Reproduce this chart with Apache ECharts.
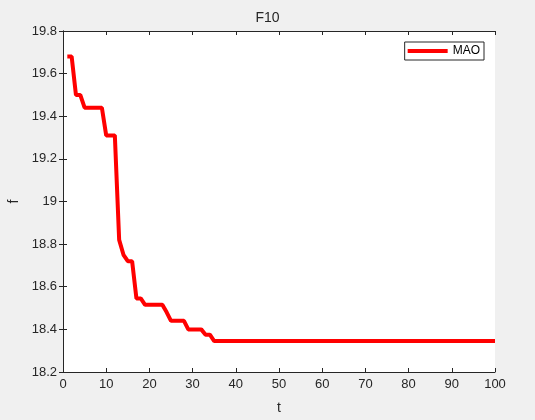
<!DOCTYPE html>
<html>
<head>
<meta charset="utf-8">
<script src="https://cdn.jsdelivr.net/npm/echarts@6/dist/echarts.min.js"></script>
<style>
  html, body { margin: 0; padding: 0; background: #f0f0f0; }
  #main { width: 535px; height: 420px; }
</style>
</head>
<body>
<div id="main"></div>
<script>
// iteration numbers
var iters = [];
for (var i = 1; i <= 100; i++) iters.push(i);

// best fitness per iteration
var fitness = [
  19.68, 19.68, 19.50, 19.50, 19.44, 19.44, 19.44, 19.44, 19.44, 19.31,
  19.31, 19.31, 18.82, 18.75, 18.72, 18.72, 18.545, 18.545, 18.515, 18.515,
  18.515, 18.515, 18.515, 18.48, 18.44, 18.44, 18.44, 18.44, 18.40, 18.40,
  18.40, 18.40, 18.375, 18.375, 18.345, 18.345, 18.345, 18.345, 18.345, 18.345,
  18.345, 18.345, 18.345, 18.345, 18.345, 18.345, 18.345, 18.345, 18.345, 18.345,
  18.345, 18.345, 18.345, 18.345, 18.345, 18.345, 18.345, 18.345, 18.345, 18.345,
  18.345, 18.345, 18.345, 18.345, 18.345, 18.345, 18.345, 18.345, 18.345, 18.345,
  18.345, 18.345, 18.345, 18.345, 18.345, 18.345, 18.345, 18.345, 18.345, 18.345,
  18.345, 18.345, 18.345, 18.345, 18.345, 18.345, 18.345, 18.345, 18.345, 18.345,
  18.345, 18.345, 18.345, 18.345, 18.345, 18.345, 18.345, 18.345, 18.345, 18.345
];

var seriesName = 'MAO';
var titleText = 'F10';

var font = 'Liberation Sans, Arial, sans-serif';
var ink = '#262626';

var points = iters.map(function (t, k) { return [t, fitness[k]]; });

var chart = echarts.init(document.getElementById('main'));

var tickStyle = { show: true, inside: true, length: 4, lineStyle: { color: ink, width: 1 } };
var lineStyle = { show: true, lineStyle: { color: ink, width: 1 } };

chart.setOption({
  backgroundColor: '#f0f0f0',
  animation: false,
  title: {
    text: titleText,
    left: 'center',
    top: 6,
    textStyle: { fontFamily: font, fontSize: 14, fontWeight: 'normal', color: ink }
  },
  grid: {
    left: 63,
    right: 40,
    top: 31,
    bottom: 48,
    outerBoundsMode: 'none',
    containLabel: false,
    show: true,
    backgroundColor: '#ffffff',
    borderWidth: 0
  },
  legend: {
    data: [seriesName],
    right: 51,
    top: 42,
    padding: [3, 4, 3, 3],
    backgroundColor: '#ffffff',
    borderColor: ink,
    borderWidth: 1,
    borderRadius: 0,
    icon: 'rect',
    itemWidth: 40,
    itemHeight: 4,
    textStyle: { fontFamily: font, fontSize: 12, color: '#000' }
  },
  xAxis: [{
    type: 'value',
    min: 0,
    max: 100,
    interval: 10,
    name: 't',
    nameLocation: 'middle',
    nameGap: 29,
    nameTextStyle: { fontFamily: font, fontSize: 14, color: ink },
    axisLine: lineStyle,
    axisTick: tickStyle,
    axisLabel: { fontFamily: font, fontSize: 13, color: ink, margin: 6 },
    splitLine: { show: false }
  }, {
    type: 'value',
    position: 'top',
    min: 0,
    max: 100,
    interval: 10,
    axisLine: lineStyle,
    axisTick: tickStyle,
    axisLabel: { show: false },
    splitLine: { show: false }
  }],
  yAxis: [{
    type: 'value',
    min: 18.2,
    max: 19.8,
    interval: 0.2,
    name: 'f',
    nameLocation: 'middle',
    nameGap: 40,
    nameTextStyle: { fontFamily: font, fontSize: 14, color: ink },
    axisLine: lineStyle,
    axisTick: tickStyle,
    axisLabel: {
      fontFamily: font, fontSize: 13, color: ink, margin: 6,
      formatter: function (v) { return String(parseFloat(v.toFixed(1))); }
    },
    splitLine: { show: false }
  }, {
    type: 'value',
    position: 'right',
    min: 18.2,
    max: 19.8,
    interval: 0.2,
    axisLine: lineStyle,
    axisTick: tickStyle,
    axisLabel: { show: false },
    splitLine: { show: false }
  }],
  series: [{
    name: seriesName,
    type: 'line',
    showSymbol: false,
    symbol: 'none',
    data: points,
    itemStyle: { color: '#ff0000' },
    lineStyle: { color: '#ff0000', width: 4 }
  }]
});
</script>
</body>
</html>
